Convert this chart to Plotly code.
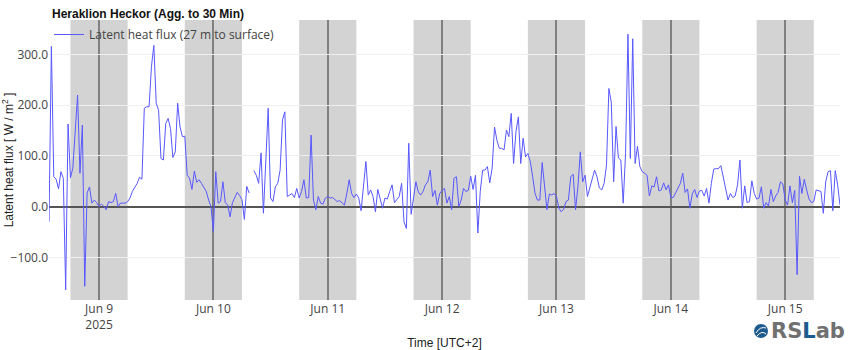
import pandas as pd
import plotly.graph_objects as go

# 30-minute aggregated latent heat flux, Heraklion Heckor station
start_time = "2025-06-08 13:30"
step = "30min"
latent_heat_flux = [
    -30, 316, 59, 54, 35, 69, 56, -164, 163, 57,
    76, 148, 220, 66, 161, -157, 27, 39, 7, 13,
    8, 0, 5, 1, -6, 10, 8, 10, 26, 0,
    7, 7, 7, 10, 17, 30, 38, 46, 58, 54,
    194, 197, 197, 276, 318, 204, 190, 95, 92, 164,
    174, 154, 97, 108, 204, 157, 138, 139, 62, 56,
    34, 70, 48, 53, 46, 39, 30, 13, 0, -49,
    69, 7, 10, 49, 8, 3, -20, 8, 20, 28,
    22, 14, -25, 40, 27, None, 71, 62, 46, 106,
    -13, 92, 194, 17, 10, 39, 46, 72, 171, 187,
    20, 23, 26, 18, 36, 17, 30, 53, 17, 18,
    141, 13, -6, 20, 7, 5, 17, 20, 17, 18,
    13, 10, 12, 7, 3, 26, 53, 26, 18, 25,
    17, -8, 39, 89, 23, 33, 20, -10, 34, 15,
    -3, 17, 15, 30, 43, 8, 13, 20, 46, -30,
    -43, 125, -15, 23, 49, 29, 23, 30, 43, 49,
    72, 20, 32, 3, 26, 32, 36, 7, 20, -6,
    56, 59, 0, 13, 36, 30, 32, 60, 34, 62,
    -52, 30, 72, 72, 79, 47, 76, 157, 131, 115,
    115, 112, 151, 138, 184, 85, 148, 177, 85, 135,
    98, 105, 89, 59, 26, 13, 13, 87, 33, -6,
    25, 23, 26, 20, -3, -10, -5, 10, 13, 59,
    64, -6, 39, 108, 49, 62, 20, 39, 56, 72,
    59, 37, 33, 46, 82, 233, 206, 49, 158, 96,
    92, 7, 105, 340, 95, 331, 85, 119, 79, 69,
    66, 62, 21, 41, 39, 59, 31, 33, 47, 33,
    43, 18, 18, 28, 36, 46, 66, 28, 35, -3,
    25, 34, 18, 31, 32, 21, 36, 7, 46, 74,
    75, 75, 81, 59, 36, 13, 26, 18, 21, 43,
    92, -3, 41, 8, 10, 51, 26, 15, 17, 39,
    -3, 8, 1, 34, 10, 21, 28, 49, 45, 13,
    3, 41, 8, 32, -134, 60, 26, 54, 33, 15,
    8, 10, 33, 32, 30, -13, 49, 69, 71, -8,
    71, 43, 3,
]

# nights shaded from 18:00 to 06:00 local time (UTC+2)
night_dates = ["2025-06-08", "2025-06-09", "2025-06-10", "2025-06-11",
               "2025-06-12", "2025-06-13", "2025-06-14"]
night_from_hour = 18
night_to_hour = 6

y_ticks = [-100, 0, 100, 200, 300]
y_range = [-184, 368]

times = pd.date_range(start_time, periods=len(latent_heat_flux), freq=step)

fig = go.Figure()
fig.add_trace(go.Scatter(
    x=times, y=latent_heat_flux, mode="lines",
    name="Latent heat flux (27 m to surface)",
    line=dict(color="rgb(88,88,255)", width=1),
    connectgaps=False, showlegend=True,
))

for d in night_dates:
    day = pd.Timestamp(d)
    fig.add_shape(
        type="rect", xref="x", yref="paper",
        x0=day + pd.Timedelta(hours=night_from_hour),
        x1=day + pd.Timedelta(days=1, hours=night_to_hour),
        y0=0, y1=1, fillcolor="#d3d3d3", line_width=0, layer="below",
    )

# logo: globe badge (pixel -> paper helpers for the area outside the plot)
PLOT_L, PLOT_W, PLOT_B, PLOT_H = 49, 791, 300, 280
def px(x):
    return (x - PLOT_L) / PLOT_W
def py(y):
    return (PLOT_B - y) / PLOT_H

fig.add_shape(type="circle", xref="paper", yref="paper",
              x0=px(754), x1=px(768), y0=py(338), y1=py(324),
              fillcolor="#1d5a8e", line_width=0)
fig.add_shape(type="path", xref="paper", yref="paper",
              path=f"M {px(756)},{py(333)} Q {px(760)},{py(326)} {px(766)},{py(328)}"
                   f" M {px(757)},{py(336)} Q {px(762)},{py(330)} {px(766)},{py(334)}",
              line=dict(color="white", width=1))
fig.add_annotation(
    xref="paper", yref="paper", x=px(769), y=py(331),
    xanchor="left", yanchor="middle", showarrow=False,
    text='<span style="color:#707070">RS</span><span style="color:#1d5a8e">L</span>'
         '<span style="color:#707070">ab</span>',
    font=dict(family="DejaVu Sans", size=21, weight="bold"),
)

fig.update_layout(
    width=850, height=350,
    margin=dict(l=PLOT_L, r=10, t=20, b=50),
    plot_bgcolor="white", paper_bgcolor="white",
    font=dict(family='"Open Sans", verdana, arial, sans-serif', size=12, color="#444"),
    title=dict(
        text="<b>Heraklion Heckor (Agg. to 30 Min)</b>",
        font=dict(family="Liberation Sans, Arial", size=12, color="#111"),
        xref="container", x=52 / 850, xanchor="left",
        yref="container", y=1 - 14 / 350, yanchor="middle",
    ),
    legend=dict(x=0, xanchor="left", y=1, yanchor="top",
                bgcolor="rgba(0,0,0,0)", font=dict(size=12)),
    xaxis=dict(
        range=[times[0], times[-1]],
        tick0="2025-06-09", dtick=86400000,
        showgrid=True, gridcolor="#808080", gridwidth=2,
        ticks="", zeroline=False, automargin=False,
        title=dict(text="Time [UTC+2]",
                   font=dict(family="Liberation Sans, Arial", size=12, color="#222")),
    ),
    yaxis=dict(
        range=y_range, tickvals=y_ticks, tickformat=".1f",
        showgrid=True, gridcolor="#efefef", gridwidth=1,
        zeroline=True, zerolinecolor="#555", zerolinewidth=2,
        ticks="", automargin=False,
        title=dict(text="Latent heat flux [ W / m<sup>2</sup> ]",
                   font=dict(family="Liberation Sans, Arial", size=12, color="#222")),
    ),
)

fig.write_html("out.html")
